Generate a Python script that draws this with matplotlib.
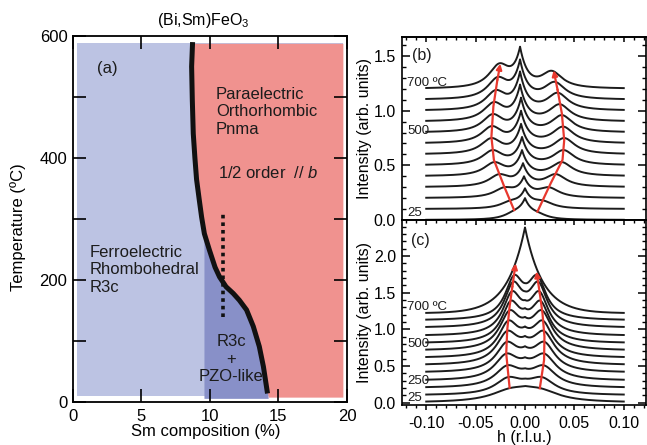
import numpy as np
import matplotlib
matplotlib.use("Agg")
import matplotlib.pyplot as plt
from matplotlib.ticker import MultipleLocator, NullFormatter

plt.rcParams["font.family"] = ["Liberation Sans", "DejaVu Sans"]
plt.rcParams["mathtext.fontset"] = "custom"
plt.rcParams["mathtext.rm"] = "Liberation Sans"
plt.rcParams["mathtext.it"] = "Liberation Sans:italic"

# ---- (a) phase diagram
bound_x = [8.73, 8.66, 8.71, 8.78, 8.9, 9.02, 9.22, 9.39, 9.59, 9.96, 10.37, 10.7,
           11.17, 11.7, 12.14, 12.67, 13.16, 13.6, 13.9, 14.2]
bound_T = [590, 550, 495, 440, 400, 365, 331, 303, 276, 249, 221, 205,
           189, 178, 167, 151, 124, 91, 58, 14]
dot_x = [10.95, 10.95]
dot_T = [140, 312]
light_box = (0.3, 19.7, 10, 588)       # x0, x1, T0, T1
red_right = 19.7
dark_left = 9.56

# ---- (b) and (c) scans: baseline, peak positions (left, centre, right) and
# heights above baseline at those positions
b_base = [0.0, 0.1, 0.2, 0.3, 0.4, 0.5, 0.6, 0.7, 0.8, 0.9, 1.0, 1.1, 1.2]
b_left_pos = [-0.011, -0.015, -0.021, -0.026, -0.031, -0.0327, -0.034, -0.0335,
              -0.0325, -0.0314, -0.0295, -0.0275, -0.026]
b_cen_pos = [0.0, 0.0, -0.001, -0.002, -0.003, -0.003, -0.004, -0.004,
             -0.004, -0.005, -0.005, -0.005, -0.005]
b_right_pos = [0.0126, 0.018, 0.024, 0.031, 0.037, 0.039, 0.0397, 0.0385,
               0.0373, 0.035, 0.033, 0.030, 0.027]
b_left_lev = [0.09, 0.08, 0.10, 0.12, 0.13, 0.14, 0.15, 0.16, 0.17, 0.18, 0.19, 0.21, 0.234]
b_cen_lev = [0.20, 0.19, 0.20, 0.22, 0.24, 0.26, 0.28, 0.30, 0.32, 0.34, 0.36, 0.37, 0.386]
b_right_lev = [0.076, 0.08, 0.10, 0.12, 0.13, 0.14, 0.15, 0.155, 0.16, 0.16, 0.165, 0.165, 0.166]
b_red_left = ([-0.011, -0.021, -0.0315, -0.034, -0.032, -0.028, -0.025],
              [0.09, 0.305, 0.55, 0.76, 1.04, 1.28, 1.43])
b_red_right = ([0.0126, 0.026, 0.038, 0.0397, 0.0373, 0.033, 0.029],
               [0.076, 0.335, 0.55, 0.73, 0.976, 1.19, 1.37])

nan = np.nan
c_base = [0.0, 0.10, 0.20, 0.30, 0.41, 0.51, 0.61, 0.71, 0.81, 0.91, 1.02, 1.12, 1.22]
c_left_pos = [-0.015, -0.017, -0.018, -0.019, -0.0185, -0.018, -0.017, -0.0157,
              -0.0145, -0.0133, -0.012, -0.011, nan]
c_right_pos = [0.015, 0.017, 0.019, 0.0195, 0.0197, 0.019, 0.018, 0.0172,
               0.0157, 0.0145, 0.0135, 0.0122, nan]
c_peak_lev = [0.20, 0.25, 0.31, 0.37, 0.42, 0.47, 0.51, 0.55, 0.58, 0.61, 0.63, 0.62, nan]
c_dip_lev = [0.228, 0.23, 0.27, 0.32, 0.36, 0.40, 0.43, 0.46, 0.48, 0.49, 0.50, 0.51, 1.17]
c_side_w = [0.024, 0.016, 0.015, 0.014, 0.013, 0.013, 0.012, 0.012, 0.011, 0.011, 0.011, 0.011, nan]
c_red_left = ([-0.0156, -0.019, -0.018, -0.0156, -0.0128, -0.0095],
              [0.205, 0.67, 0.99, 1.31, 1.58, 1.90])
c_red_right = ([0.015, 0.0193, 0.0197, 0.0177, 0.015, 0.0116],
               [0.196, 0.58, 0.90, 1.22, 1.49, 1.79])

b_labels = [("700 ºC", 1.25), ("500", 0.81), ("25", 0.065)]
c_labels = [("700 ºC", 1.30), ("500", 0.80), ("250", 0.29), ("25", 0.06)]

light = "#bcc3e3"
dark = "#8890c8"
salmon = "#f0928f"
red = "#e8382e"
ink = "#1c1c1c"


def lorentz(h, p, g):
    return 1.0 / (1.0 + ((h - p) / g) ** 2)


def cusp(h, p, w):
    return np.exp(-np.abs(h - p) / w)


def scan(h, pos, lev, g, w):
    if np.isnan(pos[0]):
        return lev[1] * cusp(h, pos[1], w)
    funcs = [lambda x: lorentz(x, pos[0], g),
             lambda x: cusp(x, pos[1], w),
             lambda x: lorentz(x, pos[2], g)]
    m = np.array([[f(p) for f in funcs] for p in pos])
    amp = np.linalg.solve(m, np.array(lev))
    return sum(a * f(h) for a, f in zip(amp, funcs))


fig = plt.figure(figsize=(6.47, 4.45), dpi=100)

# ================= (a)
ax = fig.add_axes([0.1128, 0.0966, 0.4235, 0.8225])
ax.set_xlim(0, 20)
ax.set_ylim(0, 600)
x0, x1, t0, t1 = light_box
ax.fill_between([x0, x1], t0, t1, color=light, lw=0)
ax.fill_betweenx([t1] + bound_T[1:] + [8], [bound_x[0]] + bound_x[1:] + [14.25],
                 red_right, color=salmon, lw=0)
ax.fill_betweenx(bound_T[8:] + [6], dark_left, bound_x[8:] + [14.25], color=dark, lw=0)
ax.plot(bound_x, bound_T, color="#111111", lw=3.6, solid_capstyle="butt")
ax.plot(dot_x, dot_T, color="#111111", lw=2.6, ls=(0, (1, 1.1)))

ax.text(1.73, 547, "(a)", fontsize=12, va="center", color=ink)
ax.text(10.44, 476, "Paraelectric\nOrthorhombic\nPnma", fontsize=12, va="center", color=ink)
ax.text(10.6, 375, "1/2 order  // $\\mathit{b}$", fontsize=12, va="center", color=ink)
ax.text(1.19, 217, "Ferroelectric\nRhombohedral\nR3c", fontsize=12, va="center", color=ink)
ax.text(11.53, 70, "R3c\n+\nPZO-like", fontsize=12, va="center", ha="center",
        multialignment="center", color=ink)

ax.xaxis.set_major_locator(MultipleLocator(5))
ax.yaxis.set_major_locator(MultipleLocator(200))
ax.yaxis.set_minor_locator(MultipleLocator(100))
ax.tick_params(which="both", direction="in", length=9.5, width=1.2, top=True, right=True,
               labelsize=12, pad=4)
ax.tick_params(axis="x", pad=5)
for s in ax.spines.values():
    s.set_linewidth(1.3)
ax.set_xlabel("Sm composition (%)", fontsize=12)
ax.xaxis.set_label_coords(0.484, -0.0606)
ax.set_ylabel("Temperature (ºC)", fontsize=12)
ax.yaxis.set_label_coords(-0.172, 0.477)
fig.text(203 / 647, 1 - 20 / 445, "(Bi,Sm)FeO$_3$", fontsize=11.5, ha="center", va="center")

# ================= (b), (c)
h = np.linspace(-0.1, 0.1, 801)
axb = fig.add_axes([0.6206, 0.5045, 0.3786, 0.4124])
axc = fig.add_axes([0.6206, 0.0910, 0.3786, 0.4135])

for i in range(len(b_base)):
    y = scan(h, (b_left_pos[i], b_cen_pos[i], b_right_pos[i]),
             (b_left_lev[i], b_cen_lev[i], b_right_lev[i]), 0.013, 0.007)
    axb.plot(h, b_base[i] + y, color=ink, lw=1.4)

for i in range(len(c_base)):
    y = scan(h, (c_left_pos[i], 0.0, c_right_pos[i]),
             (c_peak_lev[i], c_dip_lev[i], c_peak_lev[i]), c_side_w[i], 0.018)
    axc.plot(h, c_base[i] + y, color=ink, lw=1.4)

for a, arrows in ((axb, (b_red_left, b_red_right)), (axc, (c_red_left, c_red_right))):
    for xs, ys in arrows:
        a.plot(xs[:-1], ys[:-1], color=red, lw=1.6, zorder=5)
        a.annotate("", xy=(xs[-1], ys[-1]), xytext=(xs[-2], ys[-2]), zorder=5,
                   arrowprops=dict(arrowstyle="-|>", color=red, lw=1.6,
                                   mutation_scale=8, shrinkA=0, shrinkB=0))

for txt, yv in b_labels:
    axb.text(-0.119, yv, txt, fontsize=9.5, va="center", color=ink)
for txt, yv in c_labels:
    axc.text(-0.119, yv, txt, fontsize=9.5, va="center", color=ink)
axb.text(-0.114, 1.51, "(b)", fontsize=11.5, va="center", color=ink)
axc.text(-0.115, 2.21, "(c)", fontsize=11.5, va="center", color=ink)

axb.set_ylim(-0.005, 1.675)
axc.set_ylim(-0.025, 2.485)
for a in (axb, axc):
    a.set_xlim(-0.125, 0.123)
    a.xaxis.set_major_locator(MultipleLocator(0.05))
    a.xaxis.set_minor_locator(MultipleLocator(0.01))
    a.yaxis.set_major_locator(MultipleLocator(0.5))
    a.yaxis.set_minor_locator(MultipleLocator(0.1))
    a.yaxis.set_major_formatter(plt.FormatStrFormatter("%.1f"))
    a.tick_params(axis="y", which="major", direction="in", length=5.5, width=1.1,
                  left=True, right=True, labelsize=11.5, pad=4)
    a.tick_params(axis="y", which="minor", direction="in", length=2.7, width=1.0,
                  left=True, right=True)
    a.tick_params(axis="x", which="major", direction="out", length=3.6, width=1.1,
                  labelsize=11.5, pad=4.5)
    a.tick_params(axis="x", which="minor", direction="out", length=2.2, width=1.0)
    for s in a.spines.values():
        s.set_linewidth(1.2)
    top = a.secondary_xaxis("top")
    top.xaxis.set_major_locator(MultipleLocator(0.05))
    top.xaxis.set_minor_locator(MultipleLocator(0.01))
    top.tick_params(which="major", direction="in", length=3.6, width=1.1, labeltop=False)
    top.tick_params(which="minor", direction="in", length=2.2, width=1.0)
    top.spines["top"].set_linewidth(1.2)
    a.set_ylabel("Intensity (arb. units)", fontsize=11.5)
    a.yaxis.set_label_coords(-0.12, 0.5)
axb.xaxis.set_major_formatter(NullFormatter())
axc.xaxis.set_major_formatter(plt.FormatStrFormatter("%.2f"))
axc.set_xlabel("h (r.l.u.)", fontsize=11.5)
axc.xaxis.set_label_coords(0.5, -0.139)

fig.savefig("out.png", dpi=100)
